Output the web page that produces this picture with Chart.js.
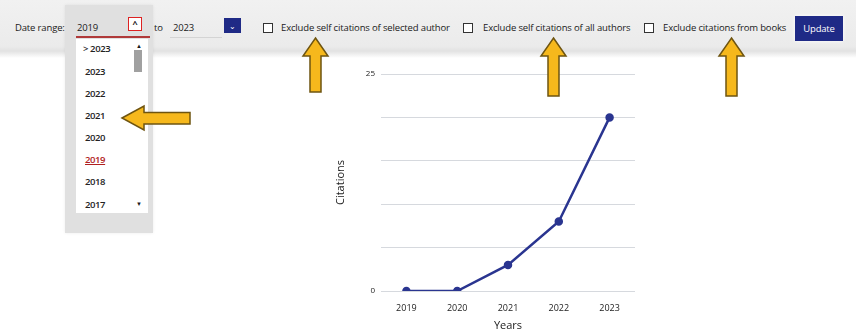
<!DOCTYPE html>
<html>
<head>
    <title>Citations per year</title>
    <script src="https://cdn.jsdelivr.net/npm/chart.js"></script>
    <style>
        body {
            margin: 0;
            width: 856px;
            height: 336px;
            position: relative;
            overflow: hidden;
            background: #fff;
            font-family: 'Open Sans', 'Liberation Sans', sans-serif;
            color: #1a1a1a;
        }
        .abs { position: absolute; white-space: nowrap; }
        .bar {
            left: 0; top: 0; width: 856px; height: 58px;
            background: linear-gradient(#f1f1f1 0%, #ebebeb 80%, #e2e2e2 88%, #fff 100%);
        }
        .lbl { font-size: 9.5px; letter-spacing: -0.15px; line-height: 12px; }
        .box {
            width: 8px; height: 8px; border: 1.5px solid #333; background: #fff;
        }
        .update {
            left: 795px; top: 16px; width: 48px; height: 25px;
            background: #1f2a86; color: #fff; font-size: 9.5px;
            line-height: 25px; text-align: center; letter-spacing: -0.2px;
            box-shadow: 0 0 4px #fff;
        }
        .panel {
            left: 65px; top: 5px; width: 88px; height: 228px;
            background: #e0e0e0;
            box-shadow: 0 0 3px rgba(0,0,0,0.08);
        }
        .list {
            left: 76px; top: 39px; width: 72px; height: 174px; background: #fff;
        }
        .item { font-size: 9.5px; letter-spacing: -0.4px; font-weight: 600; color: #222; }
        #wrap { position: absolute; left: 330px; top: 60px; width: 320px; height: 276px; }
    </style>
</head>
<body>
    <div class="abs bar"></div>

    <div class="abs panel"></div>
    <div class="abs list"></div>

    <div class="abs lbl" style="left:15px;top:22px;">Date range:</div>
    <div class="abs lbl" style="left:77px;top:22px;">2019</div>
    <div class="abs" style="left:76px;top:36px;width:74px;height:2px;background:#b03a3a;"></div>
    <div class="abs" style="left:128px;top:17px;width:12px;height:12px;border:1.5px solid #d22;background:#fff;font-size:9px;line-height:12px;text-align:center;font-weight:bold;">^</div>
    <div class="abs lbl" style="left:154px;top:22px;">to</div>
    <div class="abs lbl" style="left:173px;top:22px;">2023</div>
    <div class="abs" style="left:170px;top:37px;width:52px;height:1px;background:#d4d4d4;"></div>
    <div class="abs" style="left:224px;top:18px;width:17px;height:15px;background:#1f2a86;color:#fff;font-size:8px;line-height:15px;text-align:center;">&#8964;</div>

    <div class="abs box" style="left:263px;top:23px;"></div>
    <div class="abs lbl" style="left:281px;top:22px;">Exclude self citations of selected author</div>
    <div class="abs box" style="left:463px;top:23px;"></div>
    <div class="abs lbl" style="left:483px;top:22px;">Exclude self citations of all authors</div>
    <div class="abs box" style="left:644px;top:23px;"></div>
    <div class="abs lbl" style="left:663px;top:22px;">Exclude citations from books</div>
    <div class="abs update">Update</div>

    <div class="abs item" style="left:83px;top:42px;">&gt; 2023</div>
    <div class="abs item" style="left:85px;top:65px;">2023</div>
    <div class="abs item" style="left:85px;top:87px;">2022</div>
    <div class="abs item" style="left:85px;top:109px;">2021</div>
    <div class="abs item" style="left:85px;top:131px;">2020</div>
    <div class="abs item" style="left:85px;top:153px;color:#b02020;text-decoration:underline;">2019</div>
    <div class="abs item" style="left:85px;top:175px;">2018</div>
    <div class="abs item" style="left:85px;top:198px;">2017</div>
    <div class="abs" style="left:136px;top:42px;font-size:6px;">&#9650;</div>
    <div class="abs" style="left:134px;top:50px;width:8px;height:22px;background:#a0a0a0;"></div>
    <div class="abs" style="left:136px;top:200px;font-size:6px;">&#9660;</div>

    <div id="wrap"><canvas id="citeChart"></canvas></div>

    <svg class="abs" style="left:0;top:0;" width="856" height="336">
        <g fill="#f6b81c" stroke="#6e5410" stroke-width="1.5">
            <polygon points="315.5,38 328,56 321,56 321,92 310,92 310,56 303,56"/>
            <polygon points="553.5,38 566,56 559,56 559,96 548,96 548,56 541,56"/>
            <polygon points="731.5,38 744,56 737,56 737,96 726,96 726,56 719,56"/>
            <polygon points="122,118 144,106 144,112.5 190,112.5 190,124 144,124 144,130"/>
        </g>
    </svg>

    <script>
        const years = ['2019', '2020', '2021', '2022', '2023'];
        const citations = [0, 0, 3, 8, 20];
        const shownTicks = [0, 25];

        const ctx = document.getElementById('citeChart').getContext('2d');
        new Chart(ctx, {
            type: 'line',
            data: {
                labels: years,
                datasets: [{
                    label: 'Citations',
                    data: citations,
                    borderColor: '#2a3590',
                    backgroundColor: '#2a3590',
                    borderWidth: 2.5,
                    pointRadius: 3,
                    tension: 0
                }]
            },
            options: {
                responsive: true,
                maintainAspectRatio: false,
                animation: false,
                layout: { padding: { top: 14, right: 15, left: 0, bottom: 0 } },
                plugins: {
                    legend: { display: false },
                    tooltip: { enabled: false }
                },
                scales: {
                    x: {
                        offset: true,
                        grid: { display: false },
                        border: { display: false },
                        ticks: { color: '#222', font: { family: 'Open Sans', size: 9 }, padding: 4 },
                        title: { display: true, text: 'Years', color: '#222', font: { family: 'Open Sans', size: 11 }, padding: { top: 2 } },
                        afterFit: s => { s.height = 45; }
                    },
                    y: {
                        min: 0,
                        max: 25,
                        grid: { color: '#d6d9de', lineWidth: 1, drawTicks: false },
                        border: { display: false },
                        ticks: {
                            stepSize: 5,
                            color: '#222',
                            font: { family: 'Open Sans', size: 8 },
                            padding: 6,
                            callback: v => shownTicks.includes(v) ? v : ''
                        },
                        title: { display: true, text: 'Citations', color: '#222', font: { family: 'Open Sans', size: 11 } },
                        afterFit: s => { s.width = 51; }
                    }
                }
            }
        });
    </script>
</body>
</html>
